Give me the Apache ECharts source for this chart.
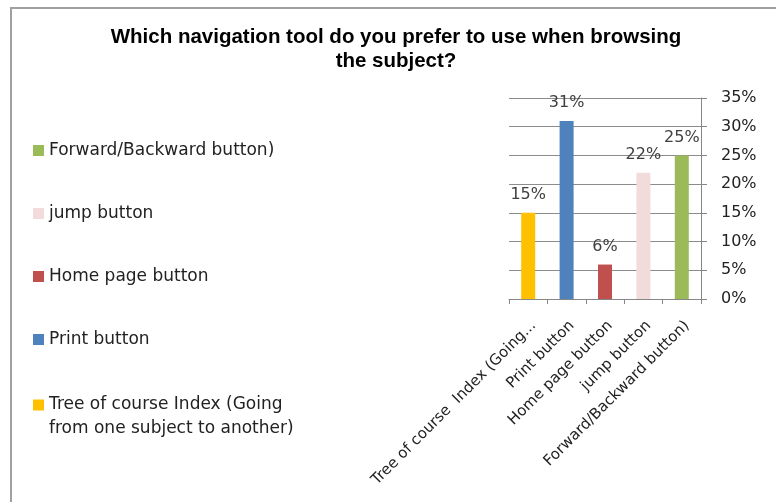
<!DOCTYPE html>
<html>
<head>
<meta charset="utf-8">
<script src="https://cdn.jsdelivr.net/npm/echarts@6/dist/echarts.min.js"></script>
<style>
html,body{margin:0;padding:0;background:#fff;}
#chart{width:776px;height:502px;}
</style>
</head>
<body>
<div id="chart"></div>
<script>
var categories = ['Tree of course Index (Going from one subject to another)', 'Print button', 'Home page button', 'jump button', 'Forward/Backward button)'];
var tickLabels = ['Tree of course  Index (Going...', 'Print button', 'Home page button', 'jump button', 'Forward/Backward button)'];
// 第一行前留空行, 使图标对齐第一行
var legendLabels = ['\nTree of course Index (Going\nfrom one subject to another)', 'Print button', 'Home page button', 'jump button', 'Forward/Backward button)'];
var values = [0.15, 0.31, 0.06, 0.22, 0.25];
var colors = ['#ffc000', '#4f81bd', '#c0504d', '#f2dcdb', '#9bbb59'];

var font = 'DejaVu Sans';

//每个类别一个系列, 用于图例
var series = [];
for (var i = 0; i < categories.length; i++) {
	var d = [];
	for (var j = 0; j < categories.length; j++) d.push(j === i ? values[i] : '-');
	series.push({
		name: categories[i],
		type: 'bar',
		stack: 'all',
		barWidth: 14,
		itemStyle: { color: colors[i] },
		label: {
			show: true,
			position: 'top',
			distance: 10,
			color: '#404040',
			fontFamily: font,
			fontSize: 16,
			formatter: function(p) { return Math.round(p.value * 100) + '%'; }
		},
		data: d
	});
}

var legendText = function(name) {
	return legendLabels[categories.indexOf(name)];
};
var legendTop = categories.slice(1).reverse();
var legendBottom = categories.slice(0, 1);

var option = {
	animation: false,
	graphic: [{
		type: 'rect',
		shape: { x: 11, y: 8, width: 800, height: 600 },
		style: { fill: 'none', stroke: '#a0a0a0', lineWidth: 2 },
		silent: true
	}],
	title: {
		text: 'Which navigation tool do you prefer to use when browsing\nthe subject?',
		left: 396,
		top: 25,
		padding: 0,
		textAlign: 'center',
		textStyle: {
			fontFamily: 'Liberation Sans',
			fontWeight: 'bold',
			fontSize: 20.5,
			lineHeight: 24,
			color: '#000'
		}
	},
	legend: [{
		orient: 'vertical',
		left: 33,
		top: 142,
		padding: 0,
		itemGap: 46,
		itemWidth: 11,
		itemHeight: 11,
		icon: 'rect',
		data: legendTop,
		formatter: legendText,
		textStyle: { fontFamily: font, fontSize: 17, color: '#222' }
	}, {
		orient: 'vertical',
		left: 33,
		top: 369,
		padding: 0,
		itemWidth: 11,
		itemHeight: 11,
		icon: 'rect',
		data: legendBottom,
		formatter: legendText,
		textStyle: { fontFamily: font, fontSize: 17, color: '#222', lineHeight: 24 }
	}],
	grid: {
		left: 509,
		right: 75,
		top: 98,
		bottom: 203,
		containLabel: false
	},
	xAxis: {
		type: 'category',
		data: tickLabels,
		axisLine: { lineStyle: { color: '#868686' } },
		axisTick: { show: true, length: 5, lineStyle: { color: '#868686' } },
		axisLabel: {
			rotate: 45,
			interval: 0,
			margin: 19,
			verticalAlign: 'top',
			color: '#222',
			fontFamily: font,
			fontSize: 15
		}
	},
	yAxis: {
		type: 'value',
		position: 'right',
		min: 0,
		max: 0.35,
		interval: 0.05,
		axisLine: { show: true, lineStyle: { color: '#868686' } },
		axisTick: { show: true, length: 6, lineStyle: { color: '#868686' } },
		splitLine: { lineStyle: { color: '#8c8c8c' } },
		axisLabel: {
			margin: 20,
			color: '#222',
			fontFamily: font,
			fontSize: 16,
			formatter: function(v) { return Math.round(v * 100) + '%'; }
		}
	},
	series: series
};

var myChart = echarts.init(document.getElementById('chart'));
myChart.setOption(option);
</script>
</body>
</html>
